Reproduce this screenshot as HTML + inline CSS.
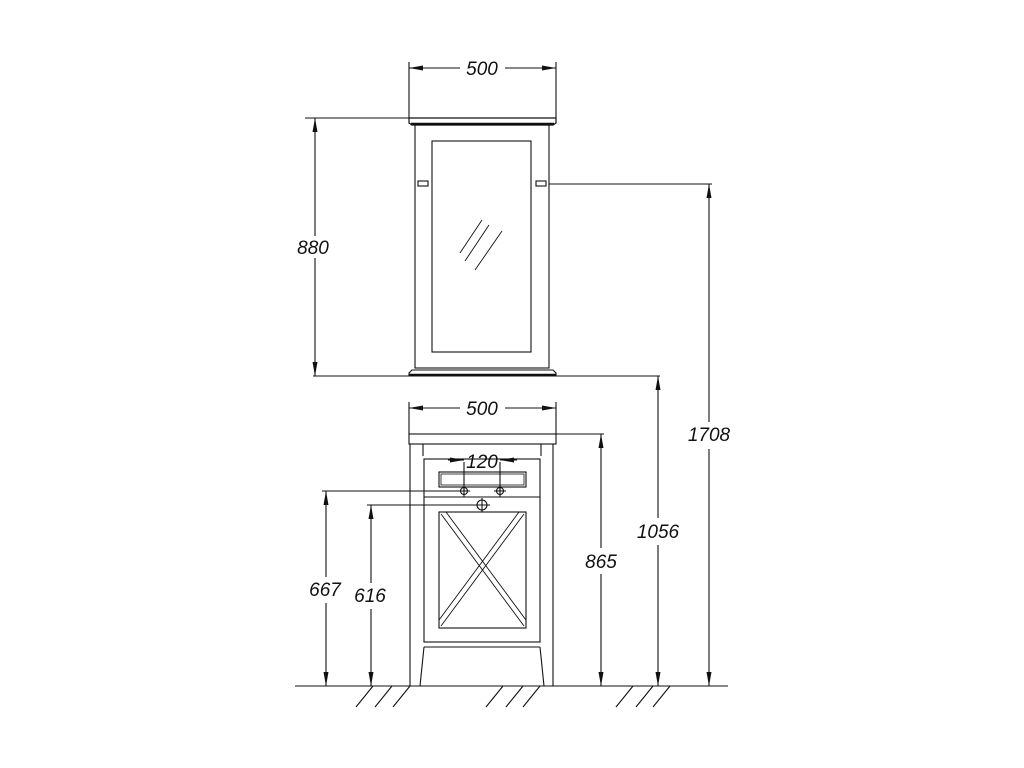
<!DOCTYPE html>
<html><head><style>body{margin:0;background:#fff}svg{display:block}
text{font-family:"Liberation Sans",sans-serif;font-style:italic;font-size:19px;fill:#111;stroke:none;text-anchor:middle}</style></head><body>
<svg width="1024" height="768" viewBox="0 0 1024 768" fill="none" stroke="#111" stroke-width="1.1">
<defs><marker id="a" viewBox="0 0 14 5" refX="14" refY="2.5" markerWidth="14" markerHeight="5" orient="auto-start-reverse" markerUnits="userSpaceOnUse"><path d="M0,0L14,2.5L0,5z" fill="#111" stroke="none"/></marker></defs>
<path d="M409,118H556V123L553,125H412L409,123Z" stroke-width="1.2"/>
<line x1="411" y1="124" x2="554" y2="124" stroke-width="2.5"/>
<rect x="415" y="125" width="134" height="243"/>
<rect x="432" y="141" width="99" height="211"/>
<rect x="418" y="181" width="10" height="5"/><rect x="536" y="181" width="10" height="5"/>
<path d="M415,368H549M412,370H553L556,373V376H409V373Z"/>
<line x1="409" y1="375" x2="556" y2="375" stroke-width="2.5"/>
<path d="M460,253L482,220M465,261L489,225M475,270L502,231" stroke-width="0.9"/>
<path d="M409,62V118M556,62V118"/>
<line x1="409" y1="68" x2="460" y2="68" marker-start="url(#a)"/>
<line x1="505" y1="68" x2="556" y2="68" marker-end="url(#a)"/>
<text x="482" y="75">500</text>
<path d="M305,118H409M313,376H660M549,184H712"/>
<line x1="315" y1="118" x2="315" y2="236" marker-start="url(#a)"/>
<line x1="315" y1="258" x2="315" y2="376" marker-end="url(#a)"/>
<text x="313" y="254">880</text>
<rect x="409" y="434" width="147" height="10"/>
<path d="M410,444V686M553,444V686M423,444V456M541,444V456"/>
<rect x="424" y="459" width="116" height="183"/>
<line x1="424" y1="497" x2="540" y2="497"/>
<rect x="439" y="472" width="87" height="15"/><rect x="441" y="474" width="83" height="11" stroke-width="0.8"/>
<path d="M424,647H540M424,647L420,686M540,647L544,686"/>
<rect x="439" y="512" width="87" height="116"/>
<path d="M441,514L524,626M446,512L526,620M524,514L441,626M519,512L439,620" stroke-width="0.9"/>
<circle cx="464" cy="491" r="3.5"/><circle cx="500" cy="491" r="3.5"/><circle cx="482" cy="505" r="5"/>
<path d="M458,491H470M464,485V497M494,491H506M500,485V497M475,505H490M482,498V512"/>
<path d="M464,462V491M500,462V491"/>
<line x1="448" y1="460" x2="464" y2="460" marker-end="url(#a)"/>
<line x1="517" y1="460" x2="500" y2="460" marker-end="url(#a)"/>
<text x="482" y="468">120</text>
<path d="M409,402V434M556,402V434"/>
<line x1="409" y1="408" x2="460" y2="408" marker-start="url(#a)"/>
<line x1="505" y1="408" x2="556" y2="408" marker-end="url(#a)"/>
<text x="482" y="415">500</text>
<path d="M556,434H604M322,491H460M367,505H478"/>
<line x1="601" y1="434" x2="601" y2="548" marker-start="url(#a)"/><line x1="601" y1="574" x2="601" y2="686" marker-end="url(#a)"/>
<text x="601" y="568">865</text>
<line x1="658" y1="376" x2="658" y2="518" marker-start="url(#a)"/><line x1="658" y1="545" x2="658" y2="686" marker-end="url(#a)"/>
<text x="658" y="538">1056</text>
<line x1="709" y1="184" x2="709" y2="422" marker-start="url(#a)"/><line x1="709" y1="449" x2="709" y2="686" marker-end="url(#a)"/>
<text x="709" y="441">1708</text>
<line x1="326" y1="491" x2="326" y2="577" marker-start="url(#a)"/><line x1="326" y1="603" x2="326" y2="686" marker-end="url(#a)"/>
<text x="325" y="596">667</text>
<line x1="371" y1="505" x2="371" y2="583" marker-start="url(#a)"/><line x1="371" y1="609" x2="371" y2="686" marker-end="url(#a)"/>
<text x="370" y="602">616</text>
<line x1="295" y1="686" x2="728" y2="686"/>
<path d="M356,707L373,686M375,707L392,686M393,707L410,686M486,707L503,686M506,707L523,686M523,707L540,686M616,707L633,686M636,707L653,686M653,707L670,686"/>
</svg></body></html>
